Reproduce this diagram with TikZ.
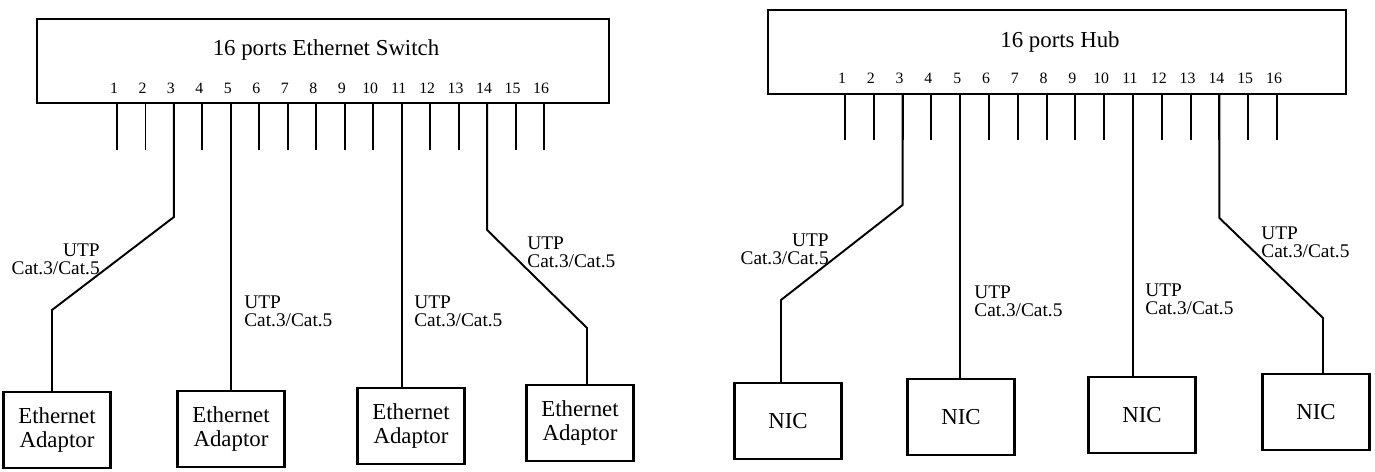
\documentclass[tikz,border=0pt]{standalone}
\usepackage{fontspec}
\setmainfont{Liberation Serif}
\usetikzlibrary{positioning}

\begin{document}
\begin{tikzpicture}[x=0.02cm, y=-0.02cm,
    devbox/.style={draw, line width=1.2pt, minimum width=#1, minimum height=1.68cm},
    nicbox/.style={draw, line width=1.2pt, minimum width=2.14cm, minimum height=1.52cm, align=center, font=\fontsize{13}{14}\selectfont},
    cable/.style={line width=1.1pt},
    portnum/.style={font=\fontsize{9}{9}\selectfont, inner sep=0pt},
    utp/.style={font=\fontsize{11}{10.5}\selectfont, inner sep=0pt}]
  \useasboundingbox (0,0) rectangle (1375,472);

  % switch side
  \node[devbox=11.44cm] (sw) at (323,61) {};
  \node[font=\fontsize{13}{13}\selectfont] (swname) at (326,50) {16 ports Ethernet Switch};
  \foreach \i in {1,...,16} {
    \pgfmathsetmacro{\px}{117+(\i-1)*28.47}
    \coordinate (sp\i) at (\px,103);
    \node[portnum] (sn\i) at (\px-3,88) {\i};
    \draw[cable] (sp\i) -- ++(0,47);
  }
  \node[nicbox] (ea1) at (57,430) {Ethernet\\Adaptor};
  \node[nicbox] (ea2) at (231,429) {Ethernet\\Adaptor};
  \node[nicbox] (ea3) at (411,426) {Ethernet\\Adaptor};
  \node[nicbox] (ea4) at (580,423) {Ethernet\\Adaptor};

  \coordinate (sb1) at (52,310);
  \coordinate (sb4) at (587,328);
  \draw[cable] (sp3) -- (sp3 |- 0,217) -- (sb1) -- (sb1 |- ea1.north);
  \draw[cable] (sp5) -- (sp5 |- ea2.north);
  \draw[cable] (sp11) -- (sp11 |- ea3.north);
  \draw[cable] (sp14) -- (sp14 |- 0,230) -- (sb4) -- (sb4 |- ea4.north);

  \node[utp, anchor=north east, align=right] (sl1) at (100,243) {UTP\\Cat.3/Cat.5};
  \node[utp, anchor=north west, align=left] (sl2) at (244,295) {UTP\\Cat.3/Cat.5};
  \node[utp, anchor=north west, align=left] (sl3) at (414,295) {UTP\\Cat.3/Cat.5};
  \node[utp, anchor=north west, align=left] (sl4) at (527,236) {UTP\\Cat.3/Cat.5};

  % hub side
  \node[devbox=11.56cm] (hub) at (1057,52) {};
  \node[font=\fontsize{13}{13}\selectfont] (hubname) at (1060,42) {16 ports Hub};
  \foreach \i in {1,...,16} {
    \pgfmathsetmacro{\px}{845+(\i-1)*28.8}
    \coordinate (hp\i) at (\px,94);
    \node[portnum] (hn\i) at (\px-3,78) {\i};
    \draw[cable] (hp\i) -- ++(0,46);
  }
  \node[nicbox] (nic1) at (788,421) {NIC};
  \node[nicbox] (nic2) at (961,417) {NIC};
  \node[nicbox] (nic3) at (1142,415) {NIC};
  \node[nicbox] (nic4) at (1316,412) {NIC};

  \coordinate (hb1) at (781,300);
  \coordinate (hb4) at (1323,318);
  \draw[cable] (hp3) -- (hp3 |- 0,205) -- (hb1) -- (hb1 |- nic1.north);
  \draw[cable] (hp5) -- (hp5 |- nic2.north);
  \draw[cable] (hp11) -- (hp11 |- nic3.north);
  \draw[cable] (hp14) -- (hp14 |- 0,218) -- (hb4) -- (hb4 |- nic4.north);

  \node[utp, anchor=north east, align=right] (hl1) at (829,233) {UTP\\Cat.3/Cat.5};
  \node[utp, anchor=north west, align=left] (hl2) at (974,285) {UTP\\Cat.3/Cat.5};
  \node[utp, anchor=north west, align=left] (hl3) at (1145,283) {UTP\\Cat.3/Cat.5};
  \node[utp, anchor=north west, align=left] (hl4) at (1261,226) {UTP\\Cat.3/Cat.5};
\end{tikzpicture}
\end{document}
